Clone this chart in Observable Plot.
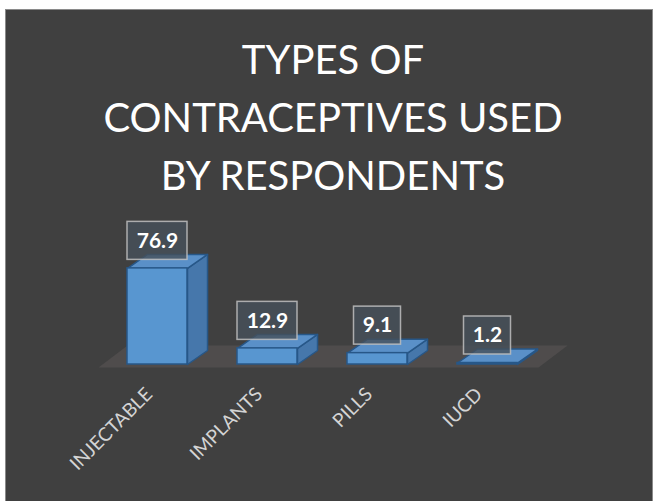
<!DOCTYPE html>
<html>
<head>
<meta charset="utf-8">
<script src="https://cdn.jsdelivr.net/npm/d3@7"></script>
<script src="https://cdn.jsdelivr.net/npm/@observablehq/plot@0.6"></script>
<style>
  html, body { margin: 0; padding: 0; background: #ffffff; }
  #frame {
    position: absolute; left: 5px; top: 9px; width: 646px; height: 491px;
    background: #404040; border-left: 1px solid #8a8a8a; border-top: 1px solid #8a8a8a; border-right: 1px solid #8a8a8a;
    overflow: hidden;
  }
  #title {
    position: absolute; left: 4px; top: 20px; width: 646px; text-align: center;
    font-family: Lato, "Open Sans", sans-serif; font-weight: 400; font-size: 40px; line-height: 58px; color: #ffffff;
  }
  #chart { position: absolute; left: 0; top: 200px; }
</style>
</head>
<body>
<div id="frame">
  <div id="title">TYPES OF<br>CONTRACEPTIVES USED<br>BY RESPONDENTS</div>
  <div id="chart"></div>
</div>
<script>
const categories = ["INJECTABLE", "IMPLANTS", "PILLS", "IUCD"];
const values = [76.9, 12.9, 9.1, 1.2];
const valueLabels = ["76.9", "12.9", "9.1", "1.2"];

const data = categories.map((c, i) => ({i, category: c, value: values[i], label: valueLabels[i]}));

// 3D geometry (in scale units)
const HW = 0.2727;   // half width of bar front
const DX = 0.182;    // depth offset x
const DY = 11.2;     // depth offset y
const n = categories.length;

const floor = [
  [-0.536, -2.4], [n - 0.536, -2.4], [n - 0.272, 15.2], [-0.272, 15.2], [-0.536, -2.4]
].map(([x, y]) => ({x, y, id: "floor"}));

const sides = data.flatMap(d => [
  [d.i + HW, 0], [d.i + HW + DX, DY], [d.i + HW + DX, d.value + DY], [d.i + HW, d.value], [d.i + HW, 0]
].map(([x, y]) => ({x, y, id: d.category})));

const tops = data.flatMap(d => [
  [d.i - HW, d.value], [d.i + HW, d.value], [d.i + HW + DX, d.value + DY], [d.i - HW + DX, d.value + DY], [d.i - HW, d.value]
].map(([x, y]) => ({x, y, id: d.category})));

const boxHalf = d => (d.label.length * 13 + 8) / 2 / 110;

const chart = Plot.plot({
  width: 646,
  height: 291,
  marginTop: 0, marginLeft: 0, marginRight: 0, marginBottom: 133,
  style: {background: "transparent", fontFamily: "Lato, 'Open Sans', sans-serif", overflow: "visible"},
  x: {type: "linear", domain: [-0.5, n - 0.5], range: [96, 536], axis: null},
  y: {domain: [0, 100], range: [154, 29], axis: null},
  marks: [
    Plot.line(floor, {x: "x", y: "y", z: "id", fill: "#4f4c4c", stroke: "none"}),
    Plot.line(sides, {x: "x", y: "y", z: "id", fill: "#4677ab", stroke: "#275788", strokeWidth: 1.5, strokeLinejoin: "round"}),
    Plot.line(tops, {x: "x", y: "y", z: "id", fill: "#5a90c8", stroke: "#275788", strokeWidth: 1.5, strokeLinejoin: "round"}),
    Plot.rect(data, {x1: d => d.i - HW, x2: d => d.i + HW, y1: 0, y2: "value", fill: "#5896d0", stroke: "#275788", strokeWidth: 1.5}),
    Plot.rect(data, {
      x1: d => d.i - boxHalf(d), x2: d => d.i + boxHalf(d), y1: "value", y2: "value",
      insetTop: -19, insetBottom: -19, dy: -27.5,
      fill: "#46505a", fillOpacity: 0.8, stroke: "#c0c0c0", strokeWidth: 1.5, strokeOpacity: 0.85
    }),
    Plot.text(data, {x: "i", y: "value", text: "label", dy: -27.5, fill: "#ffffff", fontWeight: "bold", fontSize: 21}),
    Plot.text(data, {x: "i", frameAnchor: "bottom", text: "category", rotate: -45, textAnchor: "end", dy: 27, dx: -4, fill: "#d4d4d4", fontSize: 19})
  ]
});
document.getElementById("chart").appendChild(chart);
</script>
</body>
</html>
